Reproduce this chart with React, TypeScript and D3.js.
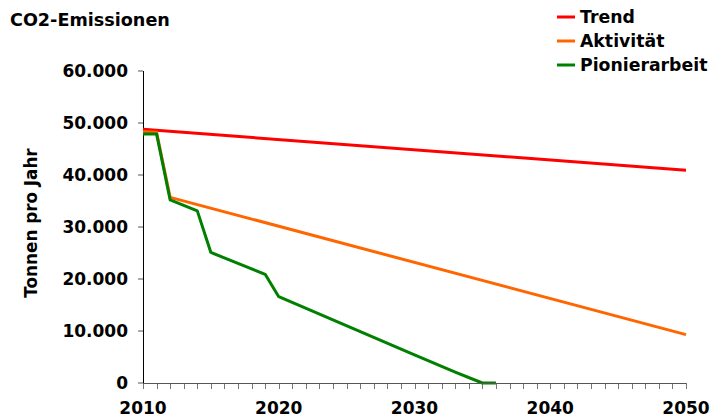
import React from 'react';
import * as d3 from 'd3';

// CO2-Emissionen, Tonnen pro Jahr
const trend: [number, number][] = [[2010, 48800], [2050, 40900]];
const aktivitaet: [number, number][] = [[2010, 48300], [2011, 48200], [2012, 35700], [2050, 9300]];
const pionierarbeit: [number, number][] = [
  [2010, 47900], [2011, 47900], [2012, 35200], [2014, 33100], [2015, 25100],
  [2019, 20900], [2020, 16600], [2030, 5400], [2033, 2100], [2035, 0], [2036, 0],
];

const seriesNames = ['Trend', 'Aktivität', 'Pionierarbeit'];
const seriesColors = ['#ff0000', '#ff6600', '#008000'];
const yTicks = [0, 10000, 20000, 30000, 40000, 50000, 60000];
const xLabels = [2010, 2020, 2030, 2040, 2050];

const W = 710;
const H = 418;
const font = '"DejaVu Sans", Verdana, sans-serif';

export default function App() {
  const x = d3.scaleLinear().domain([2010, 2050]).range([143, 686]);
  const y = d3.scaleLinear().domain([0, 60000]).range([383, 71]);
  const line = d3.line<[number, number]>().x(d => x(d[0])).y(d => y(d[1]));
  const fmt = (v: number) => d3.format(',')(v).replace(/,/g, '.');
  const series = [trend, aktivitaet, pionierarbeit];
  const years = d3.range(2010, 2051);

  return (
    <svg width={W} height={H} style={{ position: 'absolute', left: 0, top: 0 }} fontFamily={font} fontWeight="bold">
      <rect width={W} height={H} fill="#fff" />
      <text x={10} y={26} fontSize={17.6}>CO2-Emissionen</text>

      {/* legend */}
      {seriesNames.map((name, i) => (
        <g key={name} transform={`translate(557,${17 + i * 24})`}>
          <line x1={0} x2={18} stroke={seriesColors[i]} strokeWidth={3} />
          <text x={23} dy="0.36em" fontSize={17.3}>{name}</text>
        </g>
      ))}

      {/* y axis */}
      <text transform={`translate(37,223) rotate(-90)`} textAnchor="middle" fontSize={16.8}>Tonnen pro Jahr</text>
      {yTicks.map(t => (
        <g key={t}>
          <line x1={138} x2={143} y1={y(t)} y2={y(t)} stroke="#555" />
          <text x={128} y={y(t)} dy="0.36em" textAnchor="end" fontSize={17}>{fmt(t)}</text>
        </g>
      ))}
      <line x1={143.5} x2={143.5} y1={y(60000)} y2={y(0)} stroke="#000" />

      {/* x axis */}
      {years.map(t => (
        <line key={t} x1={Math.round(x(t)) + 0.5} x2={Math.round(x(t)) + 0.5} y1={383} y2={389} stroke="#777" />
      ))}
      {xLabels.map(t => (
        <text key={t} x={x(t)} y={414} textAnchor="middle" fontSize={17}>{t}</text>
      ))}

      {series.map((s, i) => (
        <path key={i} d={line(s) ?? ''} fill="none" stroke={seriesColors[i]} strokeWidth={3} strokeLinejoin="round" />
      ))}
      <line x1={143} x2={686} y1={383.5} y2={383.5} stroke="#555" />
    </svg>
  );
}
